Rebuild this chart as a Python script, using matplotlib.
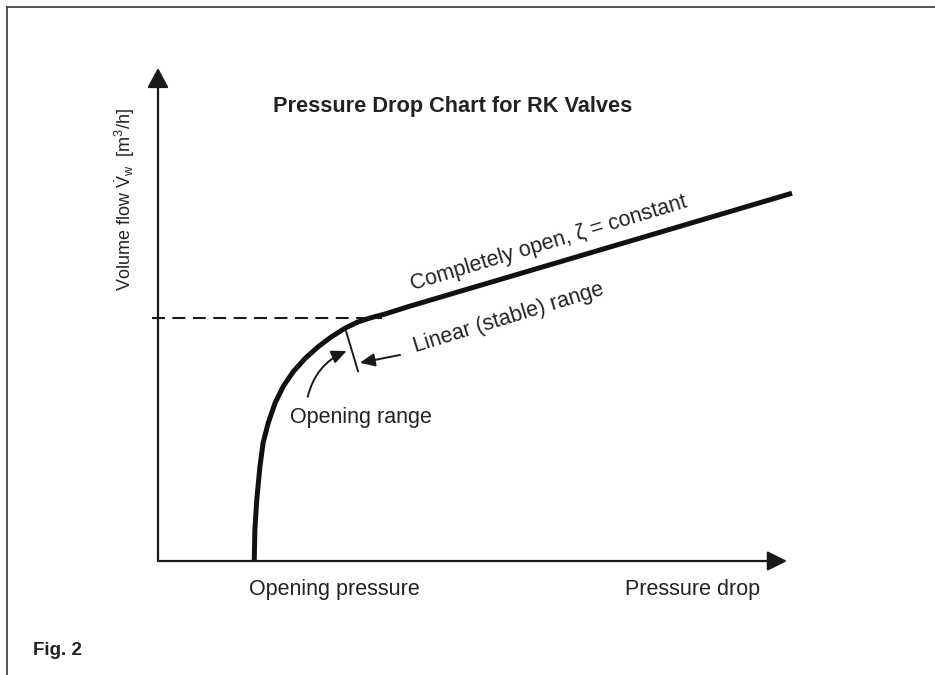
import matplotlib
matplotlib.use('Agg')
import matplotlib.pyplot as plt
from matplotlib.lines import Line2D

plt.rcParams['font.family'] = ['Liberation Sans', 'DejaVu Sans']
plt.rcParams['mathtext.fontset'] = 'custom'
plt.rcParams['mathtext.rm'] = 'Liberation Sans'
plt.rcParams['mathtext.it'] = 'Liberation Sans'

# valve characteristic (axis units 0..100)
curve_x = [15.3, 15.4, 15.7, 16.2, 16.7, 17.5, 18.6, 19.9, 21.5, 23.4, 25.5,
           27.6, 29.7, 31.8, 34.0, 36.1, 39.8, 100.8]
curve_y = [0.0, 6.3, 12.4, 19.1, 23.9, 27.9, 32.0, 35.4, 38.4, 41.1, 43.5,
           45.5, 47.2, 48.5, 49.4, 50.1, 51.6, 74.6]

# dashed level of the linear range
dash_x = [-1.0, 35.6]
dash_y = [49.3, 49.3]

# boundary tick between opening range and linear range
tick_x = [29.9, 31.8]
tick_y = [46.6, 38.5]

title = 'Pressure Drop Chart for RK Valves'
xlabel_left = 'Opening pressure'
xlabel_right = 'Pressure drop'
ylabel = r'Volume flow $\dot{\mathrm{V}}_{\mathrm{w}}$  [m$^{3}$/h]'
label_open = 'Completely open, \u03b6 = constant'
label_linear = 'Linear (stable) range'
label_opening = 'Opening range'

ink = '#1a1a1a'

fig = plt.figure(figsize=(9.35, 6.75), dpi=100)
ax = fig.add_axes([158 / 935, 1 - 561 / 675, 629 / 935, 493 / 675])
ax.set_xlim(0, 100)
ax.set_ylim(0, 100)
ax.axis('off')

# axes with arrows
ax.annotate('', xy=(100, 0), xytext=(0, 0),
            arrowprops=dict(arrowstyle='-|>,head_length=12,head_width=6', mutation_scale=1,
                            lw=1.6, color=ink, shrinkA=0, shrinkB=0), annotation_clip=False)
ax.annotate('', xy=(0, 100), xytext=(0, 0),
            arrowprops=dict(arrowstyle='-|>,head_length=12,head_width=6.5', mutation_scale=1,
                            lw=1.6, color=ink, shrinkA=0, shrinkB=0), annotation_clip=False)

ax.plot(dash_x, dash_y, color=ink, lw=1.5, dashes=(6.2, 3.6), clip_on=False)
ax.plot(curve_x, curve_y, color='#111111', lw=3.6, solid_capstyle='butt',
        solid_joinstyle='round', clip_on=False)
ax.plot(tick_x, tick_y, color=ink, lw=1.4, clip_on=False)

# pointer arrows
ax.annotate('', xy=(32.1, 40.2), xytext=(38.5, 41.8),
            arrowprops=dict(arrowstyle='-|>,head_length=9,head_width=4', mutation_scale=1,
                            lw=1.4, color=ink, shrinkA=0, shrinkB=0))
ax.annotate('', xy=(30.0, 42.6), xytext=(23.8, 33.3),
            arrowprops=dict(arrowstyle='-|>,head_length=9,head_width=4', mutation_scale=1,
                            lw=1.4, color=ink, shrinkA=0, shrinkB=0,
                            connectionstyle='arc3,rad=-0.25'))

txt = dict(color='#222222', fontsize=15.5)
ax.text(46.9, 91.1, title, ha='center', va='baseline', fontweight='bold',
        color='#222222', fontsize=15.7)
ax.text(28.0, -6.9, xlabel_left, ha='center', va='baseline', **txt)
ax.text(85.0, -6.9, xlabel_right, ha='center', va='baseline', **txt)
ax.text(-5.25, 73.4, ylabel, ha='center', va='center', rotation=90,
        color='#222222', fontsize=13)
ax.text(21.0, 28.0, label_opening, ha='left', va='baseline', **txt)
ax.text(40.5, 55.0, label_open, ha='left', va='baseline', rotation=16.8,
        rotation_mode='anchor', **txt)
ax.text(40.9, 42.4, label_linear, ha='left', va='baseline', rotation=17.0,
        rotation_mode='anchor', **txt)

# page frame (top and left edges only)
fig.add_artist(Line2D([7 / 935, 7 / 935], [0, 1 - 7 / 675], color='#333333', lw=1.2))
fig.add_artist(Line2D([7 / 935, 1], [1 - 7 / 675, 1 - 7 / 675], color='#333333', lw=1.2))

fig.text(33 / 935, 1 - 655 / 675, 'Fig. 2', ha='left', va='baseline', fontweight='bold',
         family=['Liberation Sans Narrow', 'Liberation Sans'], fontsize=13.5, color='#222222')

fig.savefig('out.png', dpi=100)
